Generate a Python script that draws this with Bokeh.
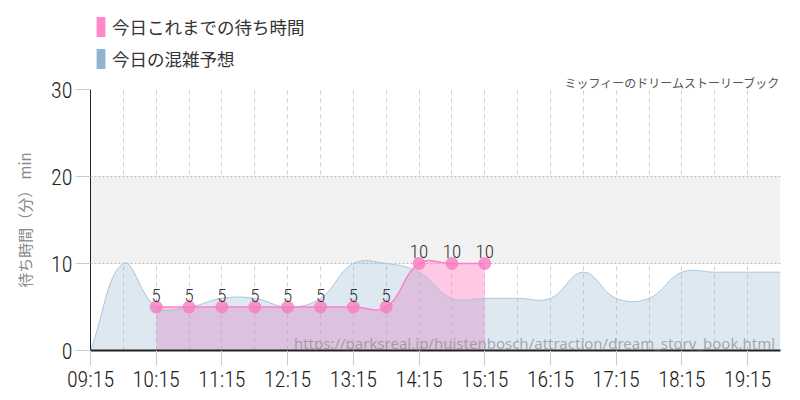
import numpy as np
from bokeh.plotting import figure
from bokeh.layouts import column
from bokeh.models import (ColumnDataSource, FixedTicker, Legend, LegendItem,
                          Label, Range1d)
from bokeh.core.properties import value
from bokeh.embed import file_html
from bokeh.resources import INLINE

# ---------------- data ----------------
forecast_times = ["09:15", "09:45", "10:15", "10:45", "11:15", "11:45", "12:15",
                  "12:45", "13:15", "13:45", "14:15", "14:45", "15:15", "15:45",
                  "16:15", "16:45", "17:15", "17:45", "18:15", "18:45", "19:15",
                  "19:45"]
forecast_waits = [0, 10, 5, 5, 6, 6, 5, 6, 10, 10, 9, 6, 6, 6, 6, 9, 6, 6, 9, 9, 9, 9]

actual_times = ["10:15", "10:45", "11:15", "11:45", "12:15", "12:45", "13:15",
                "13:45", "14:15", "14:45", "15:15"]
actual_waits = [5, 5, 5, 5, 5, 5, 5, 5, 10, 10, 10]

tick_labels = ["09:15", "10:15", "11:15", "12:15", "13:15", "14:15", "15:15",
               "16:15", "17:15", "18:15", "19:15"]
y_ticks = [0, 10, 20, 30]

title_text = "ミッフィーのドリームストーリーブック"
legend_actual = "今日これまでの待ち時間"
legend_forecast = "今日の混雑予想"
y_label = "待ち時間（分） min"
source_url = "https://parksreal.jp/huistenbosch/attraction/dream_story_book.html"


def to_min(t):
    h, m = t.split(":")
    return int(h) * 60 + int(m)


X0, X1 = to_min("09:15"), to_min("19:45")
Y0, Y1 = 0, 30
FRAME_W, FRAME_H = 690, 261
TOP_H = 71


def smooth(xs, ys, tension=0.4, n=24):
    """Chart.js-style bezier smoothing (rendering only), computed in screen space."""
    sx = (np.asarray(xs, float) - X0) / (X1 - X0) * FRAME_W
    sy = (np.asarray(ys, float) - Y0) / (Y1 - Y0) * FRAME_H
    pts = np.column_stack([sx, sy])
    k = len(pts)
    prev_c, next_c = [], []
    for i in range(k):
        cur = pts[i]
        pr = pts[i - 1] if i > 0 else cur
        nx = pts[i + 1] if i < k - 1 else cur
        d01 = np.hypot(*(cur - pr))
        d12 = np.hypot(*(nx - cur))
        tot = d01 + d12
        s01 = d01 / tot if tot else 0
        s12 = d12 / tot if tot else 0
        prev_c.append(cur - tension * s01 * (nx - pr))
        next_c.append(cur + tension * s12 * (nx - pr))
    out = []
    t = np.linspace(0, 1, n)[:, None]
    for i in range(k - 1):
        p0, c1, c2, p3 = pts[i], next_c[i], prev_c[i + 1], pts[i + 1]
        c1 = c1.copy(); c2 = c2.copy()
        c1[1] = min(max(c1[1], 0), FRAME_H)
        c2[1] = min(max(c2[1], 0), FRAME_H)
        seg = ((1 - t) ** 3) * p0 + 3 * ((1 - t) ** 2) * t * c1 + 3 * (1 - t) * t * t * c2 + t ** 3 * p3
        out.append(seg if i == 0 else seg[1:])
    out = np.vstack(out)
    rx = out[:, 0] / FRAME_W * (X1 - X0) + X0
    ry = out[:, 1] / FRAME_H * (Y1 - Y0) + Y0
    return rx, ry


fx = [to_min(t) for t in forecast_times]
ax = [to_min(t) for t in actual_times]
fsx, fsy = smooth(fx, forecast_waits)
asx, asy = smooth(ax, actual_waits)

PINK = "#ff88c8"
BLUE = "#8fb3d0"
NARROW = "'Roboto Condensed Light', 'Roboto Condensed', 'DejaVu Sans Condensed', 'Liberation Sans Narrow', Roboto, sans-serif"
CJK = "Noto Sans CJK JP"

# ---------------- header (legend) ----------------
head = figure(width=800, height=TOP_H, x_range=Range1d(0, 1), y_range=Range1d(0, 1),
              output_backend="svg", toolbar_location=None, min_border=0,
              x_axis_location=None, y_axis_location=None, outline_line_color=None)
head.grid.visible = False
swatch = ColumnDataSource(dict(l=[-10], r=[-9], b=[-10], t=[-9]))  # off-view swatch rows
r_act = head.quad(left="l", right="r", bottom="b", top="t", source=swatch,
                  fill_color=PINK, line_color=None)
r_fc = head.quad(left="l", right="r", bottom="b", top="t", source=swatch,
                 fill_color=BLUE, line_color=None)
legend = Legend(items=[LegendItem(label=legend_actual, renderers=[r_act]),
                       LegendItem(label=legend_forecast, renderers=[r_fc])],
                location=(5, 0), orientation="vertical",
                glyph_width=11, glyph_height=25, label_height=25, spacing=7,
                padding=0, margin=0, label_standoff=6,
                label_text_font=CJK, label_text_font_size="17.5px",
                label_text_color="#333333", background_fill_alpha=0,
                border_line_alpha=0)
head.add_layout(legend, "center")

# ---------------- main chart ----------------
p = figure(width=800, height=400 - TOP_H, x_range=Range1d(X0, X1), y_range=Range1d(Y0, Y1),
           output_backend="svg", toolbar_location=None,
           min_border_left=90, min_border_right=20, min_border_top=89 - TOP_H,
           min_border_bottom=50, outline_line_color=None)

p.title.text = title_text
p.title.align = "right"
p.title.text_font = CJK
p.title.text_font_size = "12px"
p.title.text_font_style = "normal"
p.title.text_color = "#555555"
p.title.standoff = -2

# grids
p.xgrid.ticker = FixedTicker(ticks=list(range(X0 + 30, X1 + 1, 30)))
p.xgrid.grid_line_color = "#cccccc"
p.xgrid.grid_line_dash = "4 4"
p.ygrid.ticker = FixedTicker(ticks=y_ticks)
p.ygrid.grid_line_color = "#bbbbbb"
p.ygrid.grid_line_dash = "2 2"
p.ygrid.band_fill_color = "#f2f2f2"
p.ygrid.band_fill_alpha = 1.0

# axes
hour_ticks = [to_min(t) for t in tick_labels]
p.xaxis.ticker = FixedTicker(ticks=hour_ticks)
p.xaxis.major_label_overrides = {h: lab for h, lab in zip(hour_ticks, tick_labels)}
p.yaxis.ticker = FixedTicker(ticks=y_ticks)
for ax_ in (p.xaxis[0], p.yaxis[0]):
    ax_.major_tick_out = 15
    ax_.major_tick_in = 0
    ax_.minor_tick_out = 0
    ax_.minor_tick_in = 0
    ax_.major_tick_line_color = "#cccccc"
    ax_.axis_line_color = "#222222"
    ax_.major_label_text_font = NARROW
    ax_.major_label_text_font_size = "22px"
    ax_.major_label_text_color = "#222222"
p.xaxis.axis_line_width = 2
p.xaxis.major_label_standoff = 1
p.yaxis.major_label_standoff = 3
p.yaxis.axis_label = y_label
p.yaxis.axis_label_text_font = CJK
p.yaxis.axis_label_text_font_size = "15px"
p.yaxis.axis_label_text_font_style = "normal"
p.yaxis.axis_label_text_color = "#888888"
p.yaxis.axis_label_standoff = 13

# areas & lines
p.varea(x=asx, y1=0, y2=asy, fill_color=PINK, fill_alpha=0.45)
p.varea(x=fsx, y1=0, y2=fsy, fill_color=BLUE, fill_alpha=0.3)
p.line(x=fsx, y=fsy, line_color="#a9c3da", line_width=1)
p.line(x=asx, y=asy, line_color="#ff80c4", line_width=1.5)

src = ColumnDataSource(dict(x=ax, y=actual_waits, label=[str(v) for v in actual_waits]))
p.scatter(x="x", y="y", source=src, size=13, fill_color="#f77cc0", fill_alpha=0.8,
          line_color=None)
p.text(x="x", y="y", text="label", source=src, y_offset=-12, text_align="center",
       text_baseline="alphabetic", text_font=value(NARROW), text_font_size="19px",
       text_color="#333333")

# watermark
p.add_layout(Label(x=X1 - 5, y=0.9, text=source_url, text_align="right",
                   text_baseline="alphabetic", text_font="Noto Sans",
                   text_font_size="15px", text_color="#8a8a8a", text_alpha=0.7))

layout = column(head, p, spacing=0)
open("out.html", "w").write(file_html(layout, INLINE))
